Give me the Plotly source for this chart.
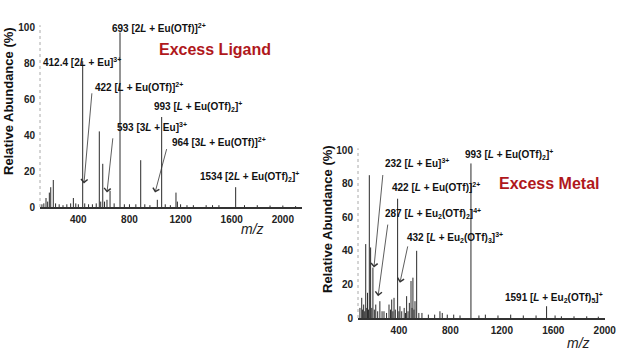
import plotly.graph_objects as go

# excess ligand spectrum (m/z, relative abundance %)
lig_mz = [115, 130, 147, 160, 173, 184, 204, 222, 250, 280, 310, 340, 361, 380, 400,
          434, 450, 480, 510, 540, 564, 575, 591, 605, 624, 648, 680, 726, 760, 800,
          850, 888, 920, 960, 1018, 1052, 1080, 1120, 1164, 1175, 1200, 1250, 1300,
          1400, 1450, 1500, 1631, 1700, 1800, 1900, 2000, 2100]
lig_int = [1.5, 2, 5, 3, 8, 11, 15, 2, 1.5, 1, 1.5, 2, 5, 2, 1.5,
           81, 2, 1.5, 1.5, 2, 42, 3, 24, 3, 4, 9, 2, 97, 1.5, 1.5,
           1.5, 26, 1.5, 1, 4, 50, 1.5, 1, 8, 3, 1.5, 1, 1,
           1, 1, 1, 11, 1, 1, 0.8, 0.8, 0.5]

# excess metal spectrum
met_mz = [97, 111, 118, 126, 134, 142, 150, 156, 164, 170, 180, 189, 198, 209, 220,
          235, 252, 269, 284, 304, 323, 335, 344, 353, 362, 372, 390, 400, 408, 422,
          441, 451, 460, 471, 481, 494, 502, 509, 517, 525, 538, 555, 579, 629, 678,
          719, 737, 776, 826, 875, 960, 1022, 1072, 1170, 1269, 1367, 1466, 1548,
          1614, 1663, 1761, 1860, 1950]
met_int = [6, 12, 5, 8, 4, 44, 6, 15, 5, 85, 42, 6, 30, 5, 8,
           4, 10, 4, 4, 3, 8, 5, 11, 4, 12, 5, 71, 4, 7, 4,
           6, 3, 13, 4, 9, 22, 6, 24, 5, 10, 40, 3, 3, 2, 2,
           4, 3, 2, 2, 1.5, 92, 1.5, 2, 1.5, 2, 1.5, 1.5, 7,
           1.5, 1, 1, 1, 0.8]

x_ticks = [400, 800, 1200, 1600, 2000]
y_ticks = [0, 20, 40, 60, 80, 100]

W, H = 622, 351


def fx(px):
    return px / W


def fy(py):
    return 1 - py / H


def sticks(mz, inten):
    xs, ys = [], []
    for m, h in zip(mz, inten):
        xs += [m, m, None]
        ys += [0, h, None]
    return xs, ys


fig = go.Figure()
lx, ly = sticks(lig_mz, lig_int)
mx, my = sticks(met_mz, met_int)
fig.add_trace(go.Scatter(x=lx, y=ly, mode="lines", line=dict(color="#2a2a2a", width=1),
                         xaxis="x", yaxis="y", hoverinfo="skip"))
fig.add_trace(go.Scatter(x=mx, y=my, mode="lines", line=dict(color="#2a2a2a", width=1),
                         xaxis="x2", yaxis="y2", hoverinfo="skip"))

tick_font = dict(family="Liberation Sans, Arial", size=10, color="#222", weight="bold")
xcommon = dict(tickvals=x_ticks, showgrid=False, zeroline=False, showline=True,
               linecolor="#333", linewidth=1.5, ticks="", tickfont=tick_font,
               automargin=False, ticklabelstandoff=2)
ycommon = dict(tickvals=y_ticks, showgrid=False, zeroline=False, showline=False,
               ticks="", tickfont=tick_font, automargin=False, ticklabelstandoff=4)

fig.update_layout(
    width=W, height=H,
    margin=dict(l=0, r=0, t=0, b=0),
    paper_bgcolor="white", plot_bgcolor="white",
    showlegend=False, template="none",
    xaxis=dict(domain=[fx(40), fx(302)], range=[100, 2150], anchor="y", **xcommon),
    yaxis=dict(domain=[fy(207), fy(27)], range=[0, 100], anchor="x", **ycommon),
    xaxis2=dict(domain=[fx(358), fx(605)], range=[82, 2002], anchor="y2", **xcommon),
    yaxis2=dict(domain=[fy(318), fy(150)], range=[0, 100], anchor="x2", **ycommon),
)

# dotted y axis lines
for xr, yr in [("x", "y"), ("x2", "y2")]:
    fig.add_shape(type="line", xref=xr + " domain", yref=yr + " domain",
                  x0=0, x1=0, y0=0, y1=1.01,
                  line=dict(color="#aaaaaa", width=1, dash="dot"))

lab_font = dict(family="Liberation Sans, Arial", size=10, color="#111", weight="bold")

# peak labels: (axis, x, y, text)
labels = [
    ("", 648, 99.4, "693 [2<i>L</i> + Eu(OTf)]<sup>2+</sup>"),
    ("", 108, 80.5, "412.4 [2<i>L</i> + Eu]<sup>3+</sup>"),
    ("", 515, 66.7, "422 [<i>L</i> + Eu(OTf)]<sup>2+</sup>"),
    ("", 687, 44.4, "593 [3<i>L</i> + Eu]<sup>3+</sup>"),
    ("", 976, 55.6, "993 [<i>L</i> + Eu(OTf)<sub>2</sub>]<sup>+</sup>"),
    ("", 1117, 36, "964 [3<i>L</i> + Eu(OTf)]<sup>2+</sup>"),
    ("", 1336, 16.7, "1534 [2<i>L</i> + Eu(OTf)<sub>2</sub>]<sup>+</sup>"),
    ("2", 898, 97.6, "993 [<i>L</i> + Eu(OTf)<sub>2</sub>]<sup>+</sup>"),
    ("2", 276, 92.3, "232 [<i>L</i> + Eu]<sup>3+</sup>"),
    ("2", 330, 78, "422 [<i>L</i> + Eu(OTf)]<sup>2+</sup>"),
    ("2", 276, 62, "287 [<i>L</i> + Eu<sub>2</sub>(OTf)<sub>2</sub>]<sup>4+</sup>"),
    ("2", 447, 48, "432 [<i>L</i> + Eu<sub>2</sub>(OTf)<sub>3</sub>]<sup>3+</sup>"),
    ("2", 1209, 12.5, "1591 [<i>L</i> + Eu<sub>2</sub>(OTf)<sub>5</sub>]<sup>+</sup>"),
]
for ax, x, y, t in labels:
    fig.add_annotation(x=x, y=y, xref="x" + ax, yref="y" + ax, text=t, showarrow=False,
                       xanchor="left", yanchor="middle", font=lab_font)

# arrows: (axis, tail x, tail y, head x, head y)
arrows = [
    ("", 507, 64, 444, 13),
    ("", 671, 39, 624, 8),
    ("", 1094, 33, 1000, 8),
    ("2", 276, 86, 206, 30),
    ("2", 315, 56.5, 238, 13),
    ("2", 471, 43.5, 408, 21),
]
for ax, tx, ty, hx, hy in arrows:
    fig.add_annotation(x=hx, y=hy, ax=tx, ay=ty, xref="x" + ax, yref="y" + ax,
                       axref="x" + ax, ayref="y" + ax, text="", showarrow=True,
                       arrowhead=4, arrowsize=1.6, arrowwidth=0.8, arrowcolor="#333")


def paper_text(px, py, text, font, **kw):
    fig.add_annotation(x=fx(px), y=fy(py), xref="paper", yref="paper", text=text,
                       showarrow=False, font=font, **kw)


title_font = dict(family="Liberation Sans, Arial", size=16, color="#b0181c", weight="bold")
paper_text(157, 50, "Excess Ligand", title_font, xanchor="left", yanchor="middle")
paper_text(497, 183, "Excess Metal", title_font, xanchor="left", yanchor="middle")

ytitle_font = dict(family="Liberation Sans, Arial", size=13, color="#111", weight="bold")
paper_text(8, 101, "Relative Abundance (%)", ytitle_font, textangle=-90,
           xanchor="center", yanchor="middle")
paper_text(327, 219, "Relative Abundance (%)", ytitle_font, textangle=-90,
           xanchor="center", yanchor="middle")

mz_font = dict(family="Liberation Sans, Arial", size=14, color="#222")
paper_text(252, 229, "<i>m/z</i>", mz_font, xanchor="center", yanchor="middle")
paper_text(578, 343, "<i>m/z</i>", mz_font, xanchor="center", yanchor="middle")

# drop the default 8px body margin so the figure fills the window
fig.write_html("out.html", config={"displayModeBar": False},
               post_script="document.body.style.margin='0';")
